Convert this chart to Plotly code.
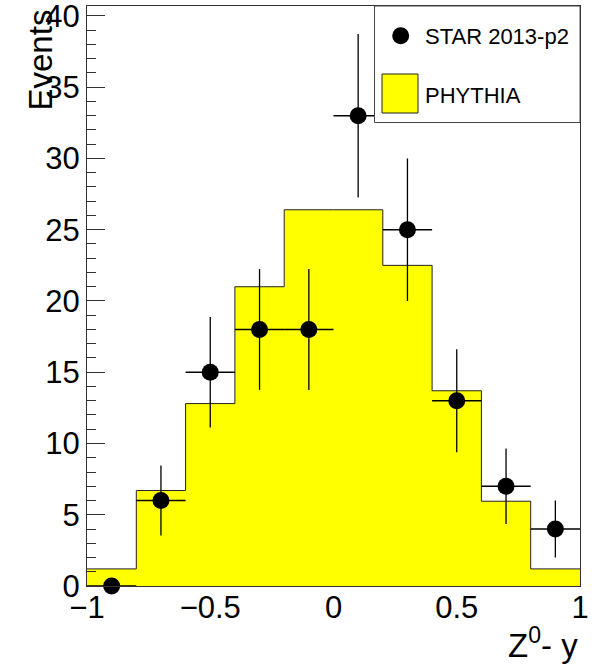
import plotly.graph_objects as go

# ---- data ----
bin_edges = [-1.0, -0.8, -0.6, -0.4, -0.2, 0.0, 0.2, 0.4, 0.6, 0.8, 1.0]
pythia_values = [1.2, 6.7, 12.8, 21.0, 26.4, 26.4, 22.5, 13.7, 5.95, 1.2]
star_x = [-0.9, -0.7, -0.5, -0.3, -0.1, 0.1, 0.3, 0.5, 0.7, 0.9]
star_y = [0, 6, 15, 18, 18, 33, 25, 13, 7, 4]
star_err = [0.0, 2.45, 3.87, 4.24, 4.24, 5.74, 5.0, 3.61, 2.65, 2.0]
star_xerr = [0.1] * 10
y_ticks = [0, 5, 10, 15, 20, 25, 30, 35, 40]
x_ticks = [-1, -0.5, 0, 0.5, 1]
x_tick_text = ["\u22121", "\u22120.5", "0", "0.5", "1"]

FONT = "Liberation Sans, Arial, Helvetica, sans-serif"

fig = go.Figure()

# PYTHIA histogram as filled step outline
step_y = pythia_values + [pythia_values[-1]]
fig.add_trace(go.Scatter(
    x=bin_edges, y=step_y, mode="lines", line_shape="hv",
    line=dict(color="#222222", width=1), fill="tozeroy", fillcolor="#ffff00",
    name="PHYTHIA", showlegend=False, hoverinfo="skip"))

# STAR data points
fig.add_trace(go.Scatter(
    x=star_x, y=star_y, mode="markers",
    marker=dict(color="black", size=17, symbol="circle"),
    error_y=dict(type="data", array=star_err, color="black", thickness=1.3, width=0),
    error_x=dict(type="data", array=star_xerr, color="black", thickness=1.3, width=0),
    name="STAR 2013-p2", showlegend=False, cliponaxis=False))

W, H = 600, 667
ml, mr, mt, mb = 87, 20, 6, 81
pw, ph = W - ml - mr, H - mt - mb

def px(x):
    return (x - ml) / pw

def py(y):
    return (H - mb - y) / ph

shapes = [
    # legend box
    dict(type="rect", xref="paper", yref="paper", x0=px(374.5), x1=1.0, y0=py(122.5), y1=1.0,
         line=dict(color="#444444", width=1), fillcolor="white", layer="above"),
    # legend marker
    dict(type="circle", xref="paper", yref="paper", x0=px(392.2), x1=px(409.2), y0=py(44.2), y1=py(27.2),
         line=dict(color="black", width=0), fillcolor="black", layer="above"),
    # legend fill box
    dict(type="rect", xref="paper", yref="paper", x0=px(382), x1=px(418), y0=py(113), y1=py(74),
         line=dict(color="#222222", width=1), fillcolor="#ffff00", layer="above"),
]

annotations = [
    dict(text="STAR 2013-p2", xref="paper", yref="paper", x=px(423), y=py(36),
         xanchor="left", yanchor="middle", showarrow=False, font=dict(family=FONT, size=22, color="black")),
    dict(text="PHYTHIA", xref="paper", yref="paper", x=px(423), y=py(96),
         xanchor="left", yanchor="middle", showarrow=False, font=dict(family=FONT, size=22, color="black")),
    dict(text="Events", xref="paper", yref="paper", x=px(40), y=py(8), textangle=-90,
         xanchor="center", yanchor="top", showarrow=False, font=dict(family=FONT, size=33, color="black")),
    dict(text="Z<sup>0</sup>- y", xref="paper", yref="paper", x=1.0, y=py(643),
         xanchor="right", yanchor="middle", showarrow=False, font=dict(family=FONT, size=33, color="black")),
]

fig.update_layout(
    width=W, height=H, margin=dict(l=ml, r=mr, t=mt, b=mb, autoexpand=False),
    paper_bgcolor="white", plot_bgcolor="white",
    shapes=shapes, annotations=annotations, showlegend=False,
    font=dict(family=FONT, color="black"),
)
fig.update_xaxes(
    range=[-1, 1], tickvals=x_ticks, ticktext=x_tick_text,
    ticks="", showgrid=False, zeroline=False, ticklabelstandoff=-6,
    showline=True, mirror=True, linecolor="#333333", linewidth=1,
    tickfont=dict(family=FONT, size=31, color="black"))
fig.update_yaxes(
    range=[0, 40.7], tickvals=y_ticks, ticks="inside", ticklen=18, tickwidth=1, tickcolor="#333333",
    minor=dict(dtick=1, ticks="inside", ticklen=9, tickwidth=1, tickcolor="#333333"),
    showgrid=False, zeroline=False, ticklabeloverflow="allow",
    showline=True, mirror=True, linecolor="#333333", linewidth=1,
    tickfont=dict(family=FONT, size=31, color="black"))

fig.write_html("out.html", config={"displayModeBar": False},
               post_script="document.body.style.margin='0';document.body.style.overflow='hidden';")
